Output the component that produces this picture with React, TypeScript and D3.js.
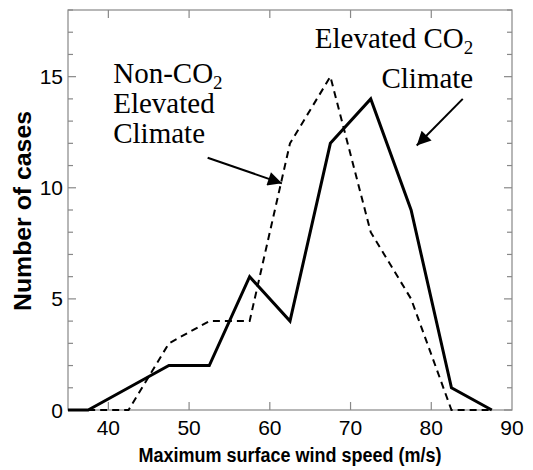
import React, { useEffect, useRef } from 'react';
import * as d3 from 'd3';

// bin centres (m/s) and counts
const windSpeed = [35, 37.5, 42.5, 47.5, 52.5, 57.5, 62.5, 67.5, 72.5, 77.5, 82.5, 87.5];
const elevatedCO2 = [0, 0, 1, 2, 2, 6, 4, 12, 14, 9, 1, 0];
const nonCO2 = [null, 0, 0, 3, 4, 4, 12, 15, 8, 5, 0, 0];

const xTicks = [40, 50, 60, 70, 80, 90];
const yTicks = [0, 5, 10, 15];
const yMinor = d3.range(0, 19, 1);

// annotation anchors in data units
const nonCO2Label = { x: 40.6, y: 14.7, lines: ['Non-CO', 'Elevated', 'Climate'] };
const nonCO2Arrow = { x1: 52.3, y1: 11.35, x2: 61.5, y2: 10.2 };
const co2Label = { x: 85.2, y: 16.3, lines: ['Elevated CO', 'Climate'] };
const co2Arrow = { x1: 83.9, y1: 14.0, x2: 78.2, y2: 11.9 };

const W = 533;
const H = 470;

const Chart = () => {
  const svgRef = useRef<SVGSVGElement>(null);

  useEffect(() => {
    const svg = d3.select(svgRef.current);
    svg.selectAll('*').remove();

    const margin = { top: 10, right: 21, bottom: 60, left: 68 };
    const x = d3.scaleLinear().domain([35, 90]).range([margin.left, W - margin.right]);
    const y = d3.scaleLinear().domain([0, 18]).range([H - margin.bottom, margin.top]);
    const sans = '"Liberation Sans", Arial, Helvetica, sans-serif';
    const serif = '"Liberation Serif", "Times New Roman", serif';
    const axisColor = '#888';

    svg.append('defs').append('marker')
      .attr('id', 'arrowhead')
      .attr('viewBox', '0 0 10 10')
      .attr('refX', 10)
      .attr('refY', 5)
      .attr('markerUnits', 'userSpaceOnUse')
      .attr('markerWidth', 17)
      .attr('markerHeight', 14)
      .attr('orient', 'auto')
      .append('path')
      .attr('d', 'M0,0 L10,5 L0,10 Z')
      .attr('fill', '#000');

    // frame
    svg.append('rect')
      .attr('x', x(35))
      .attr('y', y(18))
      .attr('width', x(90) - x(35))
      .attr('height', y(0) - y(18))
      .attr('fill', 'none')
      .attr('stroke', axisColor)
      .attr('stroke-width', 1.2);

    // y ticks, left and right, pointing inward
    const ticks = svg.append('g').attr('stroke', axisColor).attr('stroke-width', 1.2);
    yMinor.forEach(v => {
      const len = v % 5 === 0 ? 8 : 5;
      ticks.append('line').attr('x1', x(35)).attr('x2', x(35) + len).attr('y1', y(v)).attr('y2', y(v));
      ticks.append('line').attr('x1', x(90)).attr('x2', x(90) - len).attr('y1', y(v)).attr('y2', y(v));
    });
    xTicks.filter(v => v < 90).forEach(v => {
      ticks.append('line').attr('x1', x(v)).attr('x2', x(v)).attr('y1', y(0)).attr('y2', y(0) - 8);
      ticks.append('line').attr('x1', x(v)).attr('x2', x(v)).attr('y1', y(18)).attr('y2', y(18) + 8);
    });

    svg.append('g').selectAll('text')
      .data(yTicks)
      .enter()
      .append('text')
      .attr('x', x(35) - 5)
      .attr('y', d => y(d))
      .attr('dy', '0.36em')
      .attr('text-anchor', 'end')
      .style('font-family', sans)
      .style('font-size', '21px')
      .text(d => d);

    svg.append('g').selectAll('text')
      .data(xTicks)
      .enter()
      .append('text')
      .attr('x', d => x(d))
      .attr('y', y(0) + 25)
      .attr('text-anchor', 'middle')
      .style('font-family', sans)
      .style('font-size', '21px')
      .text(d => d);

    svg.append('text')
      .attr('x', (x(35) + x(90)) / 2)
      .attr('y', 462)
      .attr('text-anchor', 'middle')
      .attr('textLength', 303)
      .attr('lengthAdjust', 'spacingAndGlyphs')
      .style('font-family', sans)
      .style('font-weight', 'bold')
      .style('font-size', '20px')
      .text('Maximum surface wind speed (m/s)');

    svg.append('text')
      .attr('transform', `translate(31,${211}) rotate(-90)`)
      .attr('text-anchor', 'middle')
      .attr('textLength', 200)
      .attr('lengthAdjust', 'spacingAndGlyphs')
      .style('font-family', sans)
      .style('font-weight', 'bold')
      .style('font-size', '24px')
      .text('Number of cases');

    // series
    const line = d3.line<number | null>()
      .defined(d => d !== null)
      .x((d, i) => x(windSpeed[i]))
      .y(d => y(d as number));

    svg.append('path')
      .datum(nonCO2)
      .attr('fill', 'none')
      .attr('stroke', '#000')
      .attr('stroke-width', 2)
      .attr('stroke-dasharray', '7,5')
      .attr('d', line);

    svg.append('path')
      .datum(elevatedCO2)
      .attr('fill', 'none')
      .attr('stroke', '#000')
      .attr('stroke-width', 3)
      .attr('stroke-linejoin', 'miter')
      .attr('d', line);

    // annotations
    const label = (cfg: { x: number; y: number; lines: string[] }, anchor: string, gap: number) => {
      cfg.lines.forEach((txt, i) => {
        const t = svg.append('text')
          .attr('x', x(cfg.x))
          .attr('y', y(cfg.y) + i * gap)
          .attr('text-anchor', anchor)
          .style('font-family', serif)
          .style('font-size', '29px');
        if (txt.endsWith('CO')) {
          t.append('tspan').text(txt);
          t.append('tspan').attr('dy', 6).style('font-size', '19px').text('2');
        } else {
          t.text(txt);
        }
      });
    };
    label(nonCO2Label, 'start', 30);
    label(co2Label, 'end', 40);

    [nonCO2Arrow, co2Arrow].forEach(a => {
      svg.append('line')
        .attr('x1', x(a.x1))
        .attr('y1', y(a.y1))
        .attr('x2', x(a.x2))
        .attr('y2', y(a.y2))
        .attr('stroke', '#000')
        .attr('stroke-width', 2)
        .attr('marker-end', 'url(#arrowhead)');
    });
  }, []);

  return <svg ref={svgRef} width={W} height={H} style={{ position: 'absolute', left: 0, top: 0, background: '#fff' }} />;
};

export default function App() {
  return <Chart />;
}
